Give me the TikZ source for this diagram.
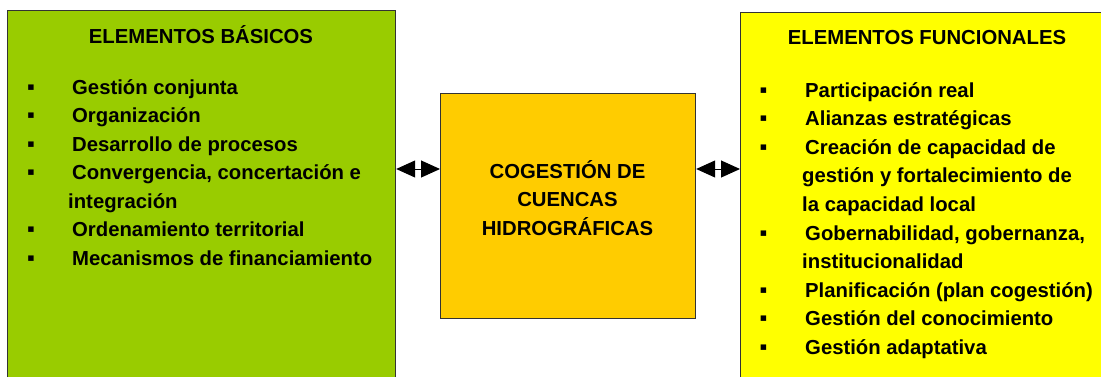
\documentclass[tikz,border=0pt]{standalone}
\usepackage{fontspec}
\setmainfont{Liberation Sans}
\usepackage{tikz}
\usetikzlibrary{arrows.meta}
\definecolor{basicgreen}{HTML}{99CC00}
\definecolor{cogestgold}{HTML}{FFCC00}
\definecolor{funcyellow}{HTML}{FFFF00}
\tikzset{
panel/.style = { rectangle, draw = black!80, line width = 1.2pt, anchor = north west, inner sep = 0pt },
title text/.style = { font = \bfseries\fontsize{20.3}{28.5}\selectfont, anchor = base, inner sep = 0pt },
item text/.style = { font = \bfseries\fontsize{20.3}{28.5}\selectfont, anchor = base west, inner sep = 0pt },
item mark/.style = { font = \fontsize{22}{28.5}\selectfont, anchor = base, inner sep = 0pt },
link/.style = { {Triangle[length = 19pt, width = 17pt]}-{Triangle[length = 19pt, width = 17pt]}, line width = 1pt },
}

\begin{document}
\begin{tikzpicture}[x = 1pt, y = -1pt]
    \useasboundingbox (0, 0) rectangle (1101, 376);
    \clip (0, 0) rectangle (1101, 376);
    \fill[white] (0, 0) rectangle (1101, 376);
    % the three boxes
    \node[panel, fill = basicgreen, minimum width = 388pt, minimum height = 390pt] (basicos) at (7, 10) {};
    \node[panel, fill = cogestgold, minimum width = 255pt, minimum height = 225pt] (cogestion) at (440, 93) {};
    \node[panel, fill = funcyellow, minimum width = 380pt, minimum height = 390pt] (funcionales) at (740, 12) {};
    % titles
    \node[title text] (basicos-title) at (201, 43.3) {ELEMENTOS BÁSICOS};
    \node[title text] (funcionales-title) at (927, 44.3) {ELEMENTOS FUNCIONALES};
    \node[title text] (cogestion-1) at (567.5, 178) {COGESTIÓN DE};
    \node[title text] (cogestion-2) at (567.5, 206.5) {CUENCAS};
    \node[title text] (cogestion-3) at (567.5, 235) {HIDROGRÁFICAS};
    % left list
    \foreach \x/\m/\t [count = \i from 0] in {72/1/Gestión conjunta, 72/1/Organización, 72/1/Desarrollo de procesos,
        {72/1/Convergencia, concertación e}, 68/0/integración, 72/1/Ordenamiento territorial, 72/1/Mecanismos de financiamiento}{
        \node[item text] (basico-\i) at (\x, 94.3 + 28.45 * \i) {\t};
        \ifnum\m=1 \node[item mark] (basico-mark-\i) at (31, 94.3 + 28.45 * \i) {\symbol{"25AA}}; \fi
    }
    % right list
    \foreach \x/\m/\t [count = \i from 0] in {805/1/Participación real, 805/1/Alianzas estratégicas, 805/1/Creación de capacidad de,
        802/0/gestión y fortalecimiento de, 802/0/la capacidad local, {805/1/Gobernabilidad, gobernanza,}, 802/0/institucionalidad,
        805/1/Planificación (plan cogestión), 805/1/Gestión del conocimiento, 805/1/Gestión adaptativa}{
        \node[item text] (funcional-\i) at (\x, 97.3 + 28.56 * \i) {\t};
        \ifnum\m=1 \node[item mark] (funcional-mark-\i) at (763.5, 97.3 + 28.56 * \i) {\symbol{"25AA}}; \fi
    }
    % double arrows
    \coordinate (arrow row) at (0, 169);
    \draw[link] (basicos.east |- arrow row) -- (cogestion.west |- arrow row);
    \draw[link] (cogestion.east |- arrow row) -- (funcionales.west |- arrow row);
\end{tikzpicture}
\end{document}
